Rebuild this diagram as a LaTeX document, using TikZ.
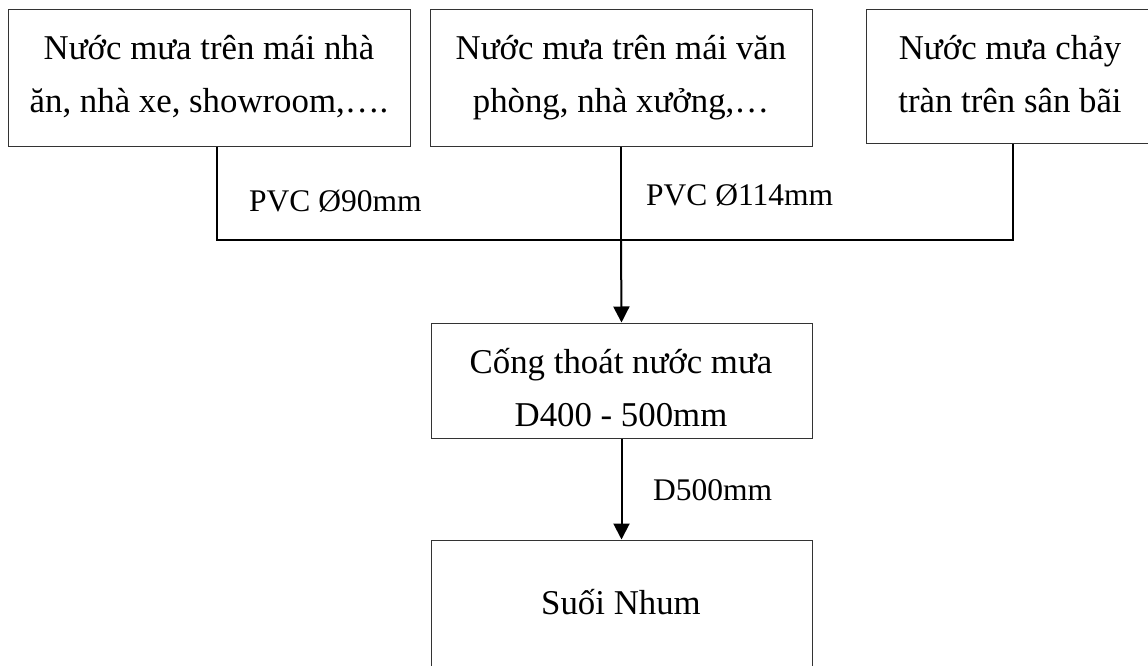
\documentclass[tikz,border=0pt]{standalone}
\usepackage{fontspec}
\setmainfont{Liberation Serif}
\usetikzlibrary{arrows.meta}
\begin{document}
\begin{tikzpicture}[x=1pt,y=-1pt,
  box/.style={draw=black!80, line width=1pt, rectangle, inner sep=0pt},
  txt/.style={inner sep=0pt, anchor=base, font=\fontsize{34.8}{42}\selectfont},
  lbl/.style={inner sep=0pt, anchor=base west, font=\fontsize{31.5}{40}\selectfont},
  pipe/.style={line width=2pt, black},
  flow/.style={line width=2pt, black, -{Triangle[width=16pt,length=16pt]}}]
\useasboundingbox (0,0) rectangle (1148,666);
\clip (0,0) rectangle (1148,666);
% boxes
\node[box, minimum width=402pt, minimum height=136pt] (b1) at (209,78) {};
\node[box, minimum width=382pt, minimum height=136pt] (b2) at (621,78) {};
\node[box, minimum width=290pt, minimum height=134pt] (b3) at (1011,77) {};
\node[box, minimum width=381pt, minimum height=115pt] (b4) at (621.5,380.5) {};
\node[box, minimum width=381pt, minimum height=170pt] (b5) at (621.5,625) {};
% texts
\node[txt] (t1a) at (209,60) {Nước mưa trên mái nhà};
\node[txt] (t1b) at (209,113) {ăn, nhà xe, showroom,….};
\node[txt] (t2a) at (621,60) {Nước mưa trên mái văn};
\node[txt] (t2b) at (621,113) {phòng, nhà xưởng,…};
\node[txt] (t3a) at (1010,60) {Nước mưa chảy};
\node[txt] (t3b) at (1010,113) {tràn trên sân bãi};
\node[txt] (t4a) at (621,373) {Cống thoát nước mưa};
\node[txt] (t4b) at (621,426) {D400 - 500mm};
\node[txt] (t5) at (621,614) {Suối Nhum};
% labels
\node[lbl] (l1) at (249,211) {PVC Ø90mm};
\node[lbl] (l2) at (646,205) {PVC Ø114mm};
\node[lbl] (l3) at (653,500) {D500mm};
% connectors
\coordinate (j1) at (217,240);
\coordinate (jm) at (621,240);
\coordinate (j3) at (1013,240);
\draw[pipe] (b1.south -| j1) -- (j1) -- (j3) -- (b3.south -| j3);
\draw[pipe] (b2.south) -- (jm);
\draw[flow] (jm) -- (b4.north);
\draw[flow] (b4.south) -- (b5.north);
\end{tikzpicture}
\end{document}
